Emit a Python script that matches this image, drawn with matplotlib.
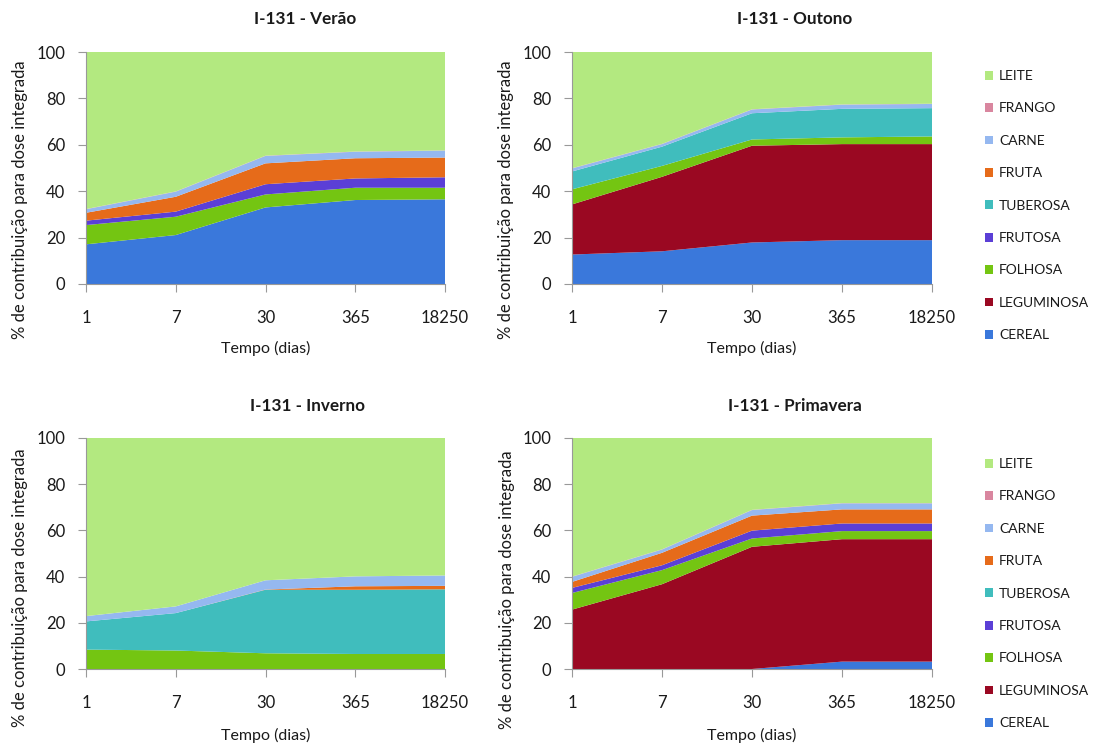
import matplotlib
matplotlib.use("Agg")
import matplotlib.pyplot as plt
from matplotlib.patches import Patch

plt.rcParams['font.family'] = ['Lato', 'DejaVu Sans']

# categorias (tempo) e componentes
tempos = ['1', '7', '30', '365', '18250']
alimentos = ['CEREAL', 'LEGUMINOSA', 'FOLHOSA', 'FRUTOSA', 'TUBEROSA',
             'FRUTA', 'CARNE', 'FRANGO', 'LEITE']
cores = ['#3a78db', '#9a0822', '#74c512', '#5b3fd6', '#40bdbd',
         '#e66b1a', '#95b8f0', '#d9869f', '#b3e980']

# % de contribuicao por alimento (de baixo para cima)
verao_cereal = [17.1, 21.1, 33.0, 36.2, 36.5]
verao_leguminosa = [0, 0, 0, 0, 0]
verao_folhosa = [8.3, 7.9, 5.6, 5.3, 5.0]
verao_frutosa = [1.9, 2.2, 4.4, 4.0, 4.5]
verao_tuberosa = [0, 0, 0, 0, 0]
verao_fruta = [3.4, 6.4, 9.0, 8.7, 8.5]
verao_carne = [1.5, 2.2, 3.2, 2.8, 3.0]
verao_frango = [0.1, 0.1, 0.1, 0.1, 0.1]
verao_leite = [67.7, 60.1, 44.7, 42.9, 42.4]

outono_cereal = [12.7, 14.1, 17.9, 18.9, 18.9]
outono_leguminosa = [21.6, 32.1, 41.7, 41.4, 41.4]
outono_folhosa = [6.5, 4.7, 2.7, 2.9, 3.3]
outono_frutosa = [0, 0, 0, 0, 0]
outono_tuberosa = [7.7, 8.3, 11.3, 12.3, 12.2]
outono_fruta = [0, 0, 0, 0, 0]
outono_carne = [1.3, 1.1, 1.6, 1.8, 1.8]
outono_frango = [0.1, 0.1, 0.1, 0.1, 0.1]
outono_leite = [50.1, 39.6, 24.7, 22.6, 22.3]

inverno_cereal = [0, 0, 0, 0, 0]
inverno_leguminosa = [0, 0, 0, 0, 0]
inverno_folhosa = [8.4, 8.0, 6.8, 6.5, 6.5]
inverno_frutosa = [0, 0, 0, 0, 0]
inverno_tuberosa = [12.2, 16.2, 27.5, 27.8, 28.0]
inverno_fruta = [0, 0, 0.1, 1.5, 1.5]
inverno_carne = [2.3, 2.9, 4.0, 4.3, 4.5]
inverno_frango = [0, 0, 0, 0, 0]
inverno_leite = [77.1, 72.9, 61.6, 59.9, 59.5]

primavera_cereal = [0, 0, 0, 3.2, 3.2]
primavera_leguminosa = [25.7, 36.7, 52.9, 53.0, 53.0]
primavera_folhosa = [7.2, 6.1, 3.6, 3.5, 3.5]
primavera_frutosa = [2.2, 2.1, 3.4, 3.3, 3.3]
primavera_tuberosa = [0, 0, 0, 0, 0]
primavera_fruta = [2.6, 5.4, 6.5, 6.1, 6.1]
primavera_carne = [2.2, 1.4, 2.4, 2.6, 2.6]
primavera_frango = [0.1, 0.1, 0.1, 0.1, 0.1]
primavera_leite = [60.0, 48.2, 31.1, 28.2, 28.2]

estacoes = {
    'I-131 - Verão': [verao_cereal, verao_leguminosa, verao_folhosa, verao_frutosa,
                      verao_tuberosa, verao_fruta, verao_carne, verao_frango, verao_leite],
    'I-131 - Outono': [outono_cereal, outono_leguminosa, outono_folhosa, outono_frutosa,
                       outono_tuberosa, outono_fruta, outono_carne, outono_frango, outono_leite],
    'I-131 - Inverno': [inverno_cereal, inverno_leguminosa, inverno_folhosa, inverno_frutosa,
                        inverno_tuberosa, inverno_fruta, inverno_carne, inverno_frango, inverno_leite],
    'I-131 - Primavera': [primavera_cereal, primavera_leguminosa, primavera_folhosa, primavera_frutosa,
                          primavera_tuberosa, primavera_fruta, primavera_carne, primavera_frango, primavera_leite],
}

fig = plt.figure(figsize=(10.98, 7.45), dpi=100)
W, H = 1098, 745
# (left, top, right, bottom) em pixels
caixas = [(86, 52, 445, 284), (572, 52, 932, 284), (86, 438, 445, 669), (572, 438, 932, 669)]
pos_titulo = [(305, 19), (795, 19), (308, 406), (795, 406)]
# centro dos rotulos dos eixos (x do ylabel, y do ylabel, y do xlabel)
pos_rotulos = [(20, 200, 348), (506, 200, 348), (20, 588, 735), (507, 590, 735)]
txt = '#1a1a1a'

for (titulo, series), (l, t, r, b), (tx, ty), (yx, yy, xy) in zip(
        estacoes.items(), caixas, pos_titulo, pos_rotulos):
    ax = fig.add_axes([l / W, 1 - b / H, (r - l) / W, (b - t) / H])
    x = list(range(len(tempos)))
    ax.stackplot(x, *series, colors=cores, linewidth=0)
    ax.set_xlim(0, len(tempos) - 1)
    ax.set_ylim(0, 100)
    ax.set_yticks([0, 20, 40, 60, 80, 100])
    ax.set_xticks(x)
    ax.set_xticklabels(tempos)
    ax.tick_params(labelsize=12, colors='#999999', labelcolor=txt, length=6)
    ax.tick_params(axis='y', pad=9)
    ax.tick_params(axis='x', pad=13)
    for s in ['top', 'right']:
        ax.spines[s].set_visible(False)
    for s in ['left', 'bottom']:
        ax.spines[s].set_color('#999999')
    ax.set_xlabel('Tempo (dias)', fontsize=11.5, color=txt, va='center')
    ax.set_ylabel('% de contribuição para dose integrada', fontsize=12, color=txt, va='center')
    ax.xaxis.set_label_coords(0.5, -(xy - b) / (b - t))
    ax.yaxis.set_label_coords(-(l - yx) / (r - l), 1 - (yy - t) / (b - t))
    fig.text(tx / W, 1 - ty / H, titulo, ha='center', va='center',
             fontsize=12.3, fontweight='bold', color=txt)

handles = [Patch(facecolor=c, edgecolor='none') for c in cores][::-1]
labels = alimentos[::-1]
for topo in [70, 458]:
    fig.legend(handles, labels, loc='upper left', bbox_to_anchor=(985 / W, 1 - topo / H),
               frameon=False, fontsize=10, handlelength=0.6, handleheight=0.6,
               handletextpad=0.4, labelspacing=1.47, borderpad=0, borderaxespad=0,
               labelcolor=txt)

fig.savefig('out.png', dpi=100)
